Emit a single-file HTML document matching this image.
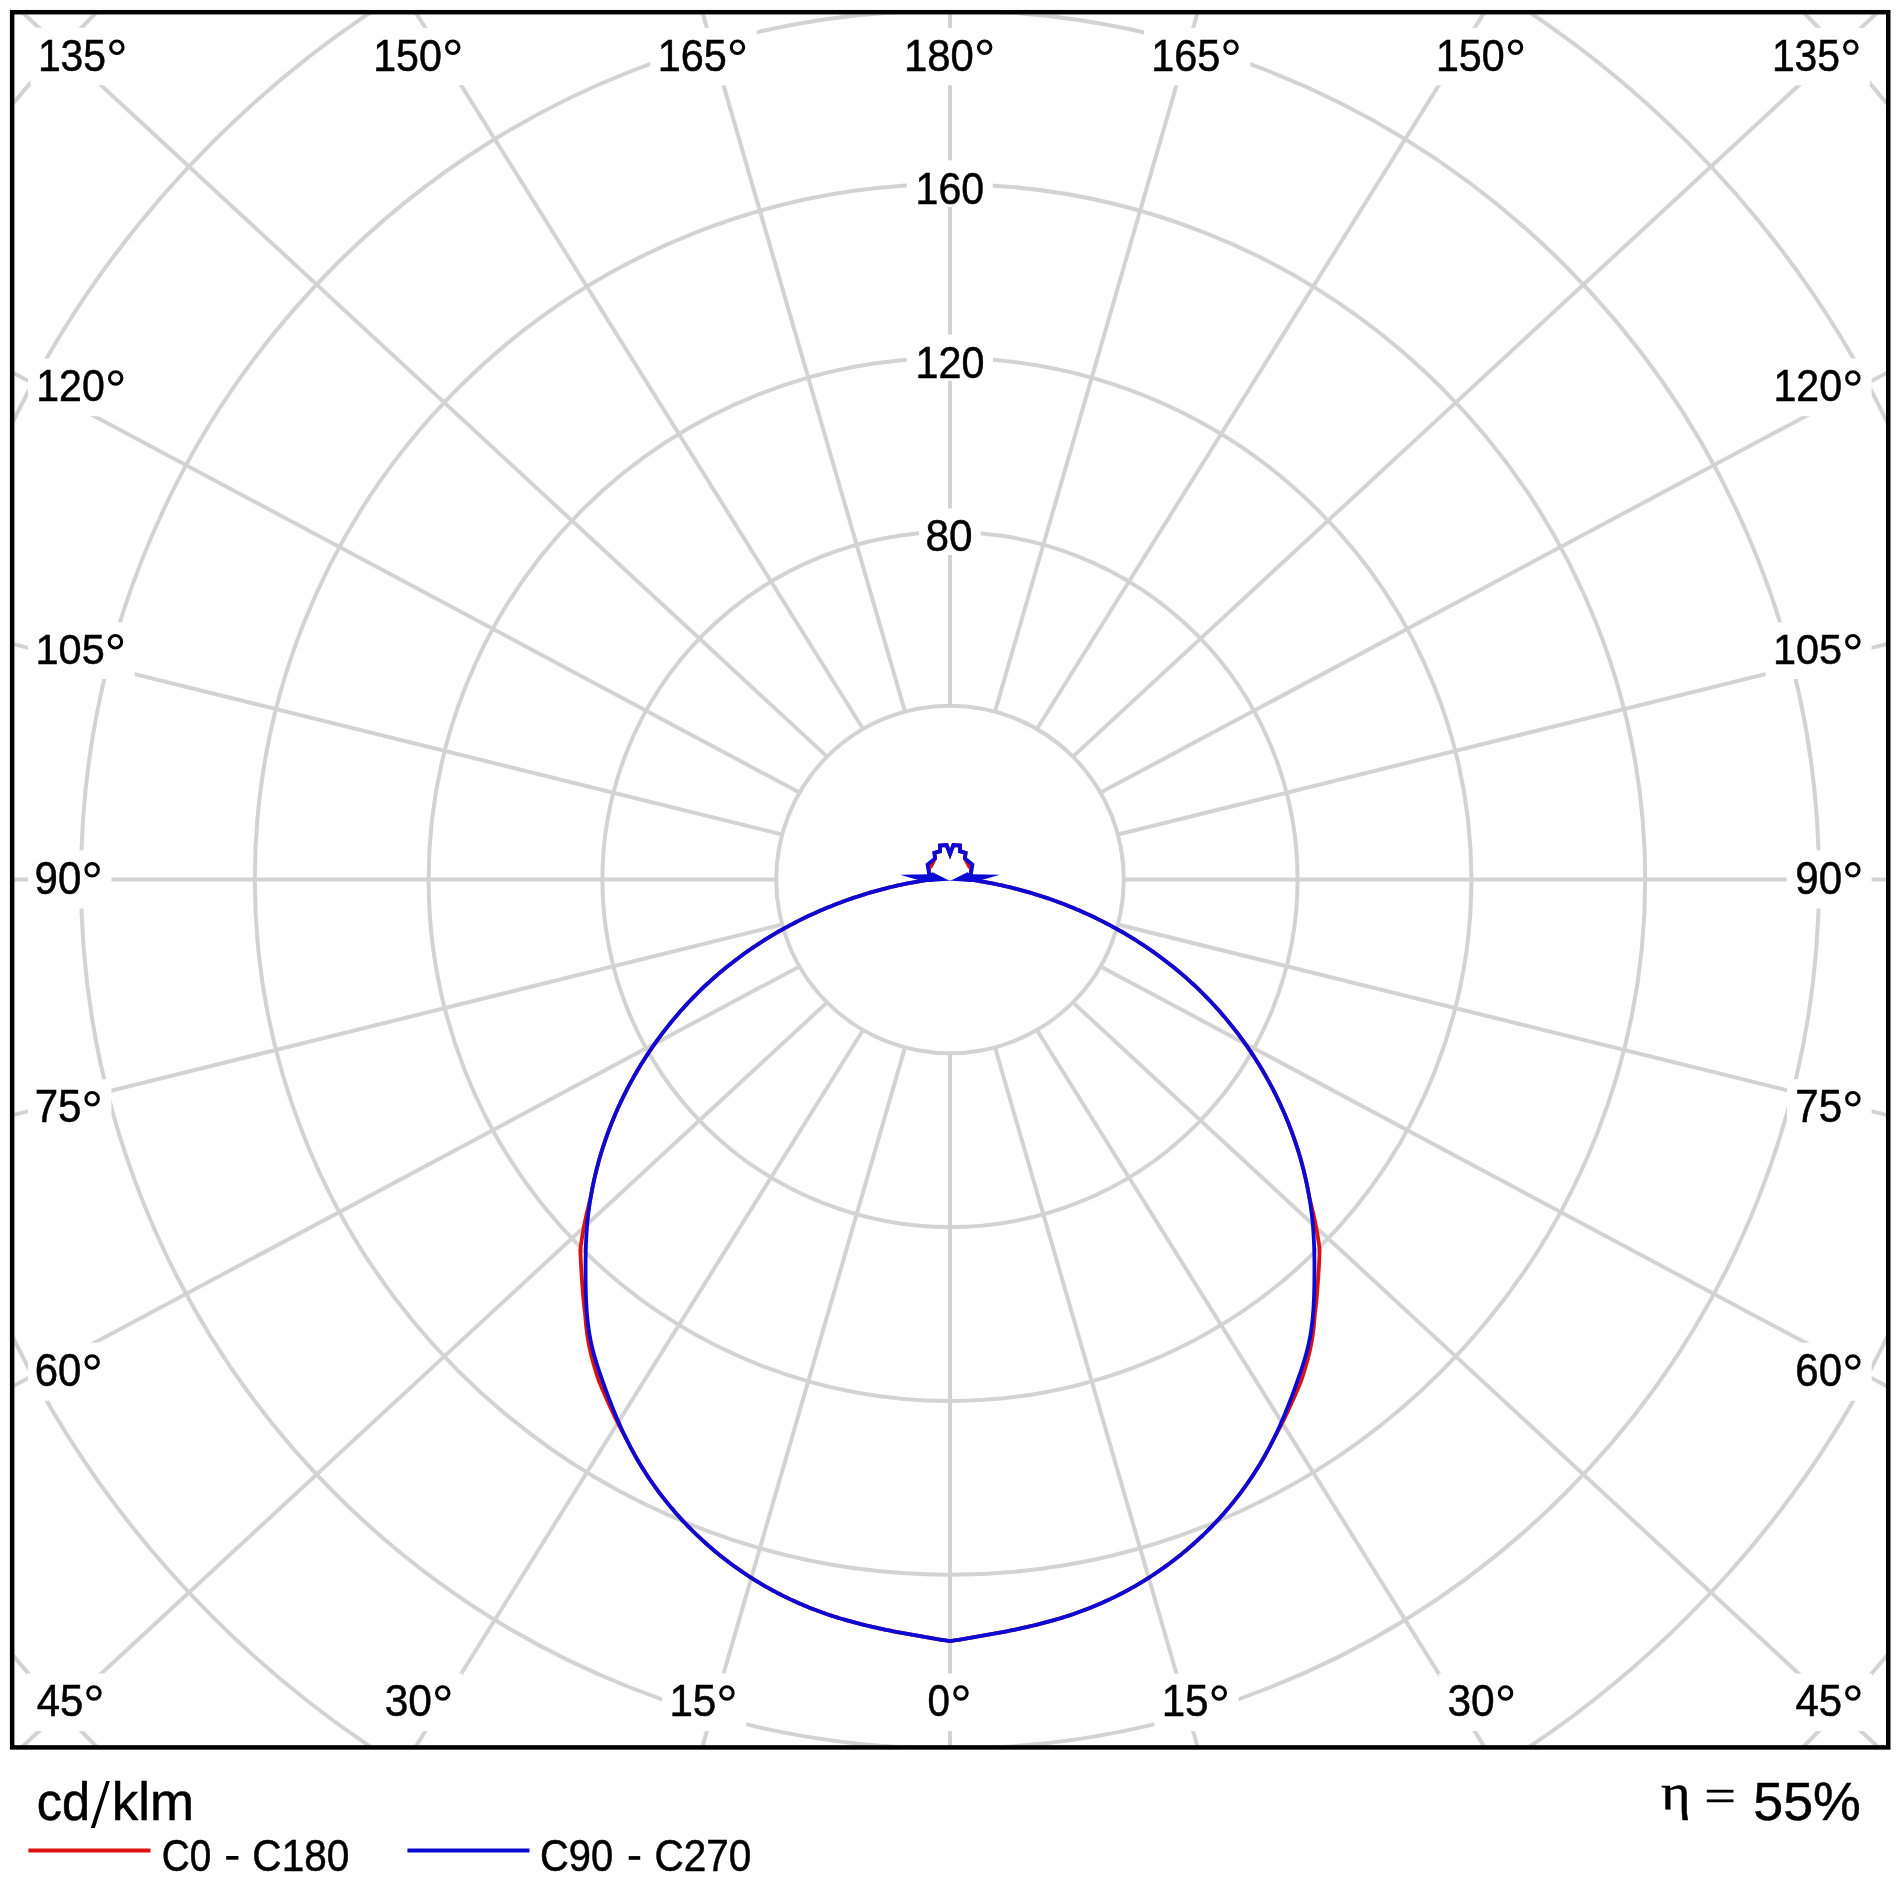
<!DOCTYPE html><html><head><meta charset="utf-8"><title>LDC</title><style>html,body{margin:0;padding:0;background:#fff;overflow:hidden}svg{display:block}</style></head><body>
<svg style="will-change:transform" xmlns="http://www.w3.org/2000/svg" width="1900" height="1900" viewBox="0 0 1900 1900">
<rect width="1900" height="1900" fill="#fff"/>
<defs><clipPath id="fr"><rect x="14.4" y="14.45" width="1871.6" height="1730.7"/></clipPath></defs>
<g clip-path="url(#fr)" fill="none" stroke="#d3d3d3" stroke-width="4.0">
<circle cx="950.0" cy="879.5" r="173.80"/>
<circle cx="950.0" cy="879.5" r="347.60"/>
<circle cx="950.0" cy="879.5" r="521.40"/>
<circle cx="950.0" cy="879.5" r="695.20"/>
<circle cx="950.0" cy="879.5" r="869.00"/>
<circle cx="950.0" cy="879.5" r="1042.80"/>
<circle cx="950.0" cy="879.5" r="1216.60"/>
<line x1="950.00" y1="1053.30" x2="950.00" y2="4053.30"/>
<line x1="994.98" y1="1047.38" x2="1829.93" y2="3928.85"/>
<line x1="1036.90" y1="1030.02" x2="2625.71" y2="3574.75"/>
<line x1="1072.90" y1="1002.40" x2="3275.50" y2="3039.18"/>
<line x1="1100.52" y1="966.40" x2="3746.97" y2="2379.30"/>
<line x1="1117.88" y1="924.48" x2="4029.82" y2="1646.00"/>
<line x1="1123.80" y1="879.50" x2="4123.80" y2="879.50"/>
<line x1="1117.88" y1="834.52" x2="4029.82" y2="113.00"/>
<line x1="1100.52" y1="792.60" x2="3746.97" y2="-620.30"/>
<line x1="1072.90" y1="756.60" x2="3275.50" y2="-1280.18"/>
<line x1="1036.90" y1="728.98" x2="2625.71" y2="-1815.75"/>
<line x1="994.98" y1="711.62" x2="1829.93" y2="-2169.85"/>
<line x1="950.00" y1="705.70" x2="950.00" y2="-2294.30"/>
<line x1="905.02" y1="711.62" x2="70.07" y2="-2169.85"/>
<line x1="863.10" y1="728.98" x2="-725.71" y2="-1815.75"/>
<line x1="827.10" y1="756.60" x2="-1375.50" y2="-1280.18"/>
<line x1="799.48" y1="792.60" x2="-1846.97" y2="-620.30"/>
<line x1="782.12" y1="834.52" x2="-2129.82" y2="113.00"/>
<line x1="776.20" y1="879.50" x2="-2223.80" y2="879.50"/>
<line x1="782.12" y1="924.48" x2="-2129.82" y2="1646.00"/>
<line x1="799.48" y1="966.40" x2="-1846.97" y2="2379.30"/>
<line x1="827.10" y1="1002.40" x2="-1375.50" y2="3039.18"/>
<line x1="863.10" y1="1030.02" x2="-725.71" y2="3574.75"/>
<line x1="905.02" y1="1047.38" x2="70.07" y2="3928.85"/>
</g>
<rect x="30.5" y="27.8" width="105.6" height="57.5" fill="#fff"/>
<text transform="translate(37.88,70.57) scale(0.9192,1)" font-family="Liberation Sans" font-size="44.49" fill="#000" stroke="#000" stroke-width="0.54">135</text>
<circle cx="116.85" cy="47.25" r="6.20" fill="none" stroke="#000" stroke-width="3.1"/>
<rect x="1764.5" y="27.8" width="105.6" height="57.5" fill="#fff"/>
<text transform="translate(1771.88,70.57) scale(0.9192,1)" font-family="Liberation Sans" font-size="44.49" fill="#000" stroke="#000" stroke-width="0.54">135</text>
<circle cx="1850.85" cy="47.25" r="6.20" fill="none" stroke="#000" stroke-width="3.1"/>
<rect x="365.8" y="27.8" width="106.2" height="57.5" fill="#fff"/>
<text transform="translate(373.16,70.57) scale(0.9261,1)" font-family="Liberation Sans" font-size="44.49" fill="#000" stroke="#000" stroke-width="0.54">150</text>
<circle cx="452.75" cy="47.25" r="6.20" fill="none" stroke="#000" stroke-width="3.1"/>
<rect x="1428.6" y="27.8" width="106.2" height="57.5" fill="#fff"/>
<text transform="translate(1435.96,70.57) scale(0.9261,1)" font-family="Liberation Sans" font-size="44.49" fill="#000" stroke="#000" stroke-width="0.54">150</text>
<circle cx="1515.55" cy="47.25" r="6.20" fill="none" stroke="#000" stroke-width="3.1"/>
<rect x="650.3" y="27.8" width="106.4" height="57.5" fill="#fff"/>
<text transform="translate(657.65,70.57) scale(0.9308,1)" font-family="Liberation Sans" font-size="44.49" fill="#000" stroke="#000" stroke-width="0.54">165</text>
<circle cx="737.45" cy="47.25" r="6.20" fill="none" stroke="#000" stroke-width="3.1"/>
<rect x="1143.9" y="27.8" width="106.4" height="57.5" fill="#fff"/>
<text transform="translate(1151.25,70.57) scale(0.9308,1)" font-family="Liberation Sans" font-size="44.49" fill="#000" stroke="#000" stroke-width="0.54">165</text>
<circle cx="1231.05" cy="47.25" r="6.20" fill="none" stroke="#000" stroke-width="3.1"/>
<rect x="896.6" y="27.8" width="107.3" height="57.5" fill="#fff"/>
<text transform="translate(903.91,70.57) scale(0.9421,1)" font-family="Liberation Sans" font-size="44.49" fill="#000" stroke="#000" stroke-width="0.53">180</text>
<circle cx="984.65" cy="47.25" r="6.20" fill="none" stroke="#000" stroke-width="3.1"/>
<rect x="28.0" y="358.5" width="106.9" height="57.7" fill="#fff"/>
<text transform="translate(36.27,401.46) scale(0.9174,1)" font-family="Liberation Sans" font-size="44.77" fill="#000" stroke="#000" stroke-width="0.55">120</text>
<circle cx="115.65" cy="377.95" r="6.20" fill="none" stroke="#000" stroke-width="3.1"/>
<rect x="1766.1" y="358.5" width="105.5" height="57.7" fill="#fff"/>
<text transform="translate(1773.47,401.46) scale(0.9174,1)" font-family="Liberation Sans" font-size="44.77" fill="#000" stroke="#000" stroke-width="0.55">120</text>
<circle cx="1852.85" cy="377.95" r="6.20" fill="none" stroke="#000" stroke-width="3.1"/>
<rect x="28.0" y="622.3" width="106.7" height="56.7" fill="#fff"/>
<text transform="translate(35.54,664.28) scale(0.9565,1)" font-family="Liberation Sans" font-size="43.36" fill="#000" stroke="#000" stroke-width="0.52">105</text>
<circle cx="115.45" cy="641.75" r="6.20" fill="none" stroke="#000" stroke-width="3.1"/>
<rect x="1765.6" y="622.3" width="106.0" height="56.7" fill="#fff"/>
<text transform="translate(1772.94,664.28) scale(0.9565,1)" font-family="Liberation Sans" font-size="43.36" fill="#000" stroke="#000" stroke-width="0.52">105</text>
<circle cx="1852.85" cy="641.75" r="6.20" fill="none" stroke="#000" stroke-width="3.1"/>
<rect x="28.0" y="850.4" width="83.4" height="58.1" fill="#fff"/>
<text transform="translate(34.53,893.76) scale(0.9284,1)" font-family="Liberation Sans" font-size="45.34" fill="#000" stroke="#000" stroke-width="0.54">90</text>
<circle cx="92.15" cy="869.85" r="6.20" fill="none" stroke="#000" stroke-width="3.1"/>
<rect x="1786.7" y="850.4" width="84.9" height="58.1" fill="#fff"/>
<text transform="translate(1795.23,893.76) scale(0.9284,1)" font-family="Liberation Sans" font-size="45.34" fill="#000" stroke="#000" stroke-width="0.54">90</text>
<circle cx="1852.85" cy="869.85" r="6.20" fill="none" stroke="#000" stroke-width="3.1"/>
<rect x="28.0" y="1079.3" width="83.4" height="57.7" fill="#fff"/>
<text transform="translate(34.64,1122.26) scale(0.9266,1)" font-family="Liberation Sans" font-size="45.43" fill="#000" stroke="#000" stroke-width="0.54">75</text>
<circle cx="92.15" cy="1098.75" r="6.20" fill="none" stroke="#000" stroke-width="3.1"/>
<rect x="1787.0" y="1079.3" width="84.6" height="57.7" fill="#fff"/>
<text transform="translate(1795.34,1122.26) scale(0.9266,1)" font-family="Liberation Sans" font-size="45.43" fill="#000" stroke="#000" stroke-width="0.54">75</text>
<circle cx="1852.85" cy="1098.75" r="6.20" fill="none" stroke="#000" stroke-width="3.1"/>
<rect x="28.0" y="1342.6" width="83.4" height="58.1" fill="#fff"/>
<text transform="translate(34.67,1385.96) scale(0.9254,1)" font-family="Liberation Sans" font-size="45.34" fill="#000" stroke="#000" stroke-width="0.54">60</text>
<circle cx="92.15" cy="1362.05" r="6.20" fill="none" stroke="#000" stroke-width="3.1"/>
<rect x="1787.0" y="1342.6" width="84.6" height="58.1" fill="#fff"/>
<text transform="translate(1795.37,1385.96) scale(0.9254,1)" font-family="Liberation Sans" font-size="45.34" fill="#000" stroke="#000" stroke-width="0.54">60</text>
<circle cx="1852.85" cy="1362.05" r="6.20" fill="none" stroke="#000" stroke-width="3.1"/>
<rect x="27.1" y="1673.5" width="86.1" height="57.6" fill="#fff"/>
<text transform="translate(36.64,1716.36) scale(0.9255,1)" font-family="Liberation Sans" font-size="45.29" fill="#000" stroke="#000" stroke-width="0.54">45</text>
<circle cx="93.95" cy="1692.95" r="6.20" fill="none" stroke="#000" stroke-width="3.1"/>
<rect x="1786.0" y="1673.5" width="86.1" height="57.6" fill="#fff"/>
<text transform="translate(1795.54,1716.36) scale(0.9255,1)" font-family="Liberation Sans" font-size="45.29" fill="#000" stroke="#000" stroke-width="0.54">45</text>
<circle cx="1852.85" cy="1692.95" r="6.20" fill="none" stroke="#000" stroke-width="3.1"/>
<rect x="375.8" y="1673.5" width="86.2" height="57.6" fill="#fff"/>
<text transform="translate(384.68,1716.36) scale(0.9524,1)" font-family="Liberation Sans" font-size="44.63" fill="#000" stroke="#000" stroke-width="0.53">30</text>
<circle cx="442.75" cy="1692.95" r="6.20" fill="none" stroke="#000" stroke-width="3.1"/>
<rect x="1438.6" y="1673.5" width="86.2" height="57.6" fill="#fff"/>
<text transform="translate(1447.48,1716.36) scale(0.9524,1)" font-family="Liberation Sans" font-size="44.63" fill="#000" stroke="#000" stroke-width="0.53">30</text>
<circle cx="1505.55" cy="1692.95" r="6.20" fill="none" stroke="#000" stroke-width="3.1"/>
<rect x="662.1" y="1673.5" width="84.1" height="57.6" fill="#fff"/>
<text transform="translate(669.39,1716.36) scale(0.9306,1)" font-family="Liberation Sans" font-size="45.29" fill="#000" stroke="#000" stroke-width="0.54">15</text>
<circle cx="726.95" cy="1692.95" r="6.20" fill="none" stroke="#000" stroke-width="3.1"/>
<rect x="1154.4" y="1673.5" width="84.1" height="57.6" fill="#fff"/>
<text transform="translate(1161.69,1716.36) scale(0.9306,1)" font-family="Liberation Sans" font-size="45.29" fill="#000" stroke="#000" stroke-width="0.54">15</text>
<circle cx="1219.25" cy="1692.95" r="6.20" fill="none" stroke="#000" stroke-width="3.1"/>
<rect x="918.7" y="1673.5" width="61.5" height="57.6" fill="#fff"/>
<text transform="translate(927.62,1716.36) scale(0.9046,1)" font-family="Liberation Sans" font-size="44.63" fill="#000" stroke="#000" stroke-width="0.55">0</text>
<circle cx="960.95" cy="1692.95" r="6.20" fill="none" stroke="#000" stroke-width="3.1"/>
<rect x="906.7" y="160.4" width="86.0" height="46.5" fill="#fff"/>
<text transform="translate(915.57,203.56) scale(0.9117,1)" font-family="Liberation Sans" font-size="45.06" fill="#000" stroke="#000" stroke-width="0.55">160</text>
<rect x="906.7" y="334.8" width="86.3" height="45.8" fill="#fff"/>
<text transform="translate(915.55,377.66) scale(0.9174,1)" font-family="Liberation Sans" font-size="45.06" fill="#000" stroke="#000" stroke-width="0.55">120</text>
<rect x="919.1" y="508.5" width="61.6" height="46.5" fill="#fff"/>
<text transform="translate(925.46,551.36) scale(0.9397,1)" font-family="Liberation Sans" font-size="45.06" fill="#000" stroke="#000" stroke-width="0.53">80</text>
<g fill="none" stroke-width="3.8" stroke-linejoin="round">
<path d="M939.75,878.36 L937.48,878.63 L934.64,879.00 L931.80,879.38 L928.96,879.78 L926.13,880.20 L923.29,880.64 L920.46,881.10 L917.63,881.58 L914.80,882.07 L911.98,882.59 L909.15,883.13 L906.33,883.69 L903.51,884.26 L900.70,884.86 L897.89,885.47 L895.08,886.11 L892.27,886.76 L889.47,887.43 L886.67,888.12 L883.88,888.83 L881.08,889.56 L878.30,890.31 L875.52,891.08 L872.74,891.86 L869.97,892.67 L867.20,893.49 L864.43,894.34 L861.68,895.20 L858.92,896.08 L856.18,896.98 L853.43,897.90 L850.70,898.83 L847.97,899.79 L845.24,900.76 L842.53,901.75 L839.81,902.76 L837.11,903.79 L834.41,904.84 L831.72,905.91 L829.04,906.99 L826.36,908.09 L823.69,909.21 L821.03,910.35 L818.37,911.51 L815.73,912.68 L813.09,913.88 L810.46,915.09 L807.84,916.32 L805.22,917.57 L802.62,918.83 L800.02,920.11 L797.43,921.42 L794.86,922.74 L792.29,924.07 L789.73,925.43 L787.18,926.80 L784.64,928.19 L782.11,929.60 L779.59,931.02 L777.08,932.47 L774.58,933.93 L772.09,935.41 L769.61,936.90 L767.14,938.41 L764.69,939.94 L762.24,941.49 L759.81,943.06 L757.39,944.64 L754.98,946.24 L752.58,947.86 L750.19,949.49 L747.82,951.14 L745.45,952.81 L743.10,954.50 L740.77,956.20 L738.44,957.92 L736.13,959.66 L733.83,961.41 L731.55,963.18 L729.28,964.97 L727.02,966.77 L724.77,968.59 L722.54,970.43 L720.33,972.29 L718.12,974.16 L715.94,976.05 L713.76,977.95 L711.60,979.87 L709.46,981.81 L707.33,983.76 L705.22,985.73 L703.12,987.72 L701.04,989.72 L698.97,991.74 L696.92,993.77 L694.88,995.82 L692.86,997.89 L690.85,999.97 L688.86,1002.06 L686.89,1004.17 L684.93,1006.30 L682.99,1008.44 L681.06,1010.59 L679.15,1012.76 L677.26,1014.95 L675.39,1017.14 L673.53,1019.35 L671.68,1021.58 L669.86,1023.82 L668.05,1026.07 L666.25,1028.34 L664.48,1030.62 L662.72,1032.91 L660.98,1035.22 L659.25,1037.54 L657.55,1039.87 L655.86,1042.21 L654.19,1044.57 L652.53,1046.94 L650.90,1049.32 L649.28,1051.72 L647.68,1054.12 L646.10,1056.54 L644.53,1058.97 L642.99,1061.41 L641.46,1063.86 L639.95,1066.33 L638.46,1068.80 L636.99,1071.29 L635.54,1073.78 L634.10,1076.29 L632.69,1078.81 L631.29,1081.34 L629.92,1083.87 L628.56,1086.42 L627.22,1088.98 L625.90,1091.55 L624.60,1094.13 L623.32,1096.72 L622.06,1099.32 L620.82,1101.92 L619.60,1104.54 L618.40,1107.16 L617.22,1109.80 L616.06,1112.44 L614.92,1115.09 L613.80,1117.75 L612.70,1120.42 L611.62,1123.10 L610.56,1125.78 L609.53,1128.47 L608.51,1131.18 L607.51,1133.88 L606.54,1136.60 L605.59,1139.32 L604.65,1142.05 L603.74,1144.79 L602.85,1147.53 L601.98,1150.29 L601.14,1153.04 L600.31,1155.81 L599.51,1158.58 L598.73,1161.36 L597.97,1164.14 L597.23,1166.93 L596.51,1169.73 L595.82,1172.53 L595.15,1175.33 L594.50,1178.15 L593.88,1180.96 L593.27,1183.79 L592.69,1186.61 L592.14,1189.45 L591.60,1192.28 L591.09,1195.13 L590.52,1198.04 L589.69,1201.22 L588.88,1204.41 L588.10,1207.61 L587.34,1210.81 L586.60,1214.02 L585.90,1217.23 L585.22,1220.46 L584.56,1223.69 L583.93,1226.92 L583.33,1230.16 L582.76,1233.41 L582.21,1236.67 L581.68,1239.93 L581.18,1243.19 L580.70,1246.46 L580.34,1249.64 L580.42,1252.40 L580.52,1255.15 L580.64,1257.91 L580.77,1260.66 L580.90,1263.42 L581.06,1266.17 L581.21,1268.93 L581.38,1271.68 L581.56,1274.43 L581.74,1277.19 L581.93,1279.94 L582.12,1282.69 L582.31,1285.44 L582.52,1288.19 L582.73,1290.93 L582.95,1293.68 L583.19,1296.42 L583.44,1299.15 L583.71,1301.89 L583.99,1304.62 L584.30,1307.34 L584.62,1310.06 L584.97,1312.77 L585.26,1315.58 L585.47,1318.50 L585.71,1321.42 L585.98,1324.33 L586.29,1327.24 L586.62,1330.14 L586.99,1333.04 L587.40,1335.93 L587.85,1338.81 L588.34,1341.68 L588.86,1344.55 L589.43,1347.41 L590.05,1350.26 L590.71,1353.10 L591.40,1355.93 L592.13,1358.76 L592.90,1361.58 L593.69,1364.40 L594.52,1367.21 L595.36,1370.02 L596.23,1372.83 L597.12,1375.63 L598.03,1378.44 L598.97,1381.22 L600.05,1383.80 L601.14,1386.38 L602.24,1388.96 L603.34,1391.54 L604.45,1394.12 L605.58,1396.70 L606.71,1399.27 L607.85,1401.84 L609.01,1404.40 L610.17,1406.96 L611.35,1409.51 L612.54,1412.06 L613.75,1414.60 L614.96,1417.14 L616.19,1419.66 L617.44,1422.18 L618.70,1424.69 L619.98,1427.19 L621.28,1429.69 L622.59,1432.17 L623.92,1434.64 L625.27,1437.10 L626.63,1439.55 L627.93,1442.14 L629.24,1444.73 L630.58,1447.30 L631.94,1449.86 L633.32,1452.40 L634.72,1454.94 L636.15,1457.46 L637.59,1459.96 L639.06,1462.46 L640.55,1464.94 L642.06,1467.40 L643.59,1469.85 L645.14,1472.29 L646.71,1474.72 L648.30,1477.13 L649.91,1479.52 L651.54,1481.90 L653.19,1484.27 L654.86,1486.62 L656.55,1488.96 L658.26,1491.29 L659.99,1493.59 L661.74,1495.89 L663.51,1498.17 L665.29,1500.43 L667.10,1502.68 L668.92,1504.91 L670.76,1507.13 L672.62,1509.33 L674.50,1511.52 L676.39,1513.69 L678.31,1515.84 L680.24,1517.98 L682.19,1520.10 L684.15,1522.21 L686.14,1524.30 L688.14,1526.37 L690.16,1528.43 L692.19,1530.47 L694.24,1532.49 L696.31,1534.50 L698.39,1536.49 L700.49,1538.46 L702.61,1540.41 L704.74,1542.35 L706.89,1544.27 L709.05,1546.17 L711.23,1548.06 L713.43,1549.93 L715.64,1551.78 L717.86,1553.61 L720.10,1555.42 L722.36,1557.21 L724.63,1558.99 L726.91,1560.75 L729.21,1562.49 L731.52,1564.21 L733.85,1565.91 L736.19,1567.59 L738.54,1569.26 L740.91,1570.90 L743.29,1572.53 L745.69,1574.13 L748.10,1575.72 L750.52,1577.29 L752.95,1578.84 L755.40,1580.36 L757.86,1581.87 L760.33,1583.36 L762.81,1584.83 L765.31,1586.28 L767.82,1587.70 L770.34,1589.11 L772.87,1590.50 L775.41,1591.86 L777.97,1593.21 L780.54,1594.53 L783.11,1595.84 L785.70,1597.12 L788.30,1598.38 L790.91,1599.62 L793.53,1600.84 L796.17,1602.03 L798.81,1603.21 L801.46,1604.36 L804.12,1605.49 L806.79,1606.60 L809.48,1607.69 L812.17,1608.76 L814.87,1609.80 L817.58,1610.82 L820.30,1611.82 L823.03,1612.79 L825.76,1613.75 L828.51,1614.68 L831.26,1615.59 L834.02,1616.48 L836.79,1617.35 L839.56,1618.20 L842.35,1619.03 L845.13,1619.85 L847.93,1620.64 L850.73,1621.42 L853.53,1622.18 L856.34,1622.92 L859.16,1623.65 L861.98,1624.36 L864.80,1625.05 L867.63,1625.73 L870.46,1626.40 L873.29,1627.05 L876.13,1627.69 L878.97,1628.32 L881.81,1628.93 L884.65,1629.53 L887.50,1630.12 L890.34,1630.70 L893.19,1631.27 L896.03,1631.83 L898.88,1632.37 L901.73,1632.91 L904.57,1633.44 L907.42,1633.97 L910.26,1634.48 L913.10,1634.99 L915.94,1635.49 L918.78,1635.99 L921.62,1636.47 L924.45,1636.96 L927.28,1637.44 L930.10,1637.91 L932.93,1638.38 L935.74,1638.85 L938.56,1639.31 L941.37,1639.78 L944.17,1640.24 L946.97,1640.70 L949.76,1641.15 L953.03,1640.70 L955.83,1640.24 L958.63,1639.78 L961.44,1639.31 L964.26,1638.85 L967.07,1638.38 L969.90,1637.91 L972.72,1637.44 L975.55,1636.96 L978.38,1636.47 L981.22,1635.99 L984.06,1635.49 L986.90,1634.99 L989.74,1634.48 L992.58,1633.97 L995.43,1633.44 L998.27,1632.91 L1001.12,1632.37 L1003.97,1631.83 L1006.81,1631.27 L1009.66,1630.70 L1012.50,1630.12 L1015.35,1629.53 L1018.19,1628.93 L1021.03,1628.32 L1023.87,1627.69 L1026.71,1627.05 L1029.54,1626.40 L1032.37,1625.73 L1035.20,1625.05 L1038.02,1624.36 L1040.84,1623.65 L1043.66,1622.92 L1046.47,1622.18 L1049.27,1621.42 L1052.07,1620.64 L1054.87,1619.85 L1057.65,1619.03 L1060.44,1618.20 L1063.21,1617.35 L1065.98,1616.48 L1068.74,1615.59 L1071.49,1614.68 L1074.24,1613.75 L1076.97,1612.79 L1079.70,1611.82 L1082.42,1610.82 L1085.13,1609.80 L1087.83,1608.76 L1090.52,1607.69 L1093.21,1606.60 L1095.88,1605.49 L1098.54,1604.36 L1101.19,1603.21 L1103.83,1602.03 L1106.47,1600.84 L1109.09,1599.62 L1111.70,1598.38 L1114.30,1597.12 L1116.89,1595.84 L1119.46,1594.53 L1122.03,1593.21 L1124.59,1591.86 L1127.13,1590.50 L1129.66,1589.11 L1132.18,1587.70 L1134.69,1586.28 L1137.19,1584.83 L1139.67,1583.36 L1142.14,1581.87 L1144.60,1580.36 L1147.05,1578.84 L1149.48,1577.29 L1151.90,1575.72 L1154.31,1574.13 L1156.71,1572.53 L1159.09,1570.90 L1161.46,1569.26 L1163.81,1567.59 L1166.15,1565.91 L1168.48,1564.21 L1170.79,1562.49 L1173.09,1560.75 L1175.37,1558.99 L1177.64,1557.21 L1179.90,1555.42 L1182.14,1553.61 L1184.36,1551.78 L1186.57,1549.93 L1188.77,1548.06 L1190.95,1546.17 L1193.11,1544.27 L1195.26,1542.35 L1197.39,1540.41 L1199.51,1538.46 L1201.61,1536.49 L1203.69,1534.50 L1205.76,1532.49 L1207.81,1530.47 L1209.84,1528.43 L1211.86,1526.37 L1213.86,1524.30 L1215.85,1522.21 L1217.81,1520.10 L1219.76,1517.98 L1221.69,1515.84 L1223.61,1513.69 L1225.50,1511.52 L1227.38,1509.33 L1229.24,1507.13 L1231.08,1504.91 L1232.90,1502.68 L1234.71,1500.43 L1236.49,1498.17 L1238.26,1495.89 L1240.01,1493.59 L1241.74,1491.29 L1243.45,1488.96 L1245.14,1486.62 L1246.81,1484.27 L1248.46,1481.90 L1250.09,1479.52 L1251.70,1477.13 L1253.29,1474.72 L1254.86,1472.29 L1256.41,1469.85 L1257.94,1467.40 L1259.45,1464.94 L1260.94,1462.46 L1262.41,1459.96 L1263.85,1457.46 L1265.28,1454.94 L1266.68,1452.40 L1268.06,1449.86 L1269.42,1447.30 L1270.76,1444.73 L1272.07,1442.14 L1273.37,1439.55 L1274.73,1437.10 L1276.08,1434.64 L1277.41,1432.17 L1278.72,1429.69 L1280.02,1427.19 L1281.30,1424.69 L1282.56,1422.18 L1283.81,1419.66 L1285.04,1417.14 L1286.25,1414.60 L1287.46,1412.06 L1288.65,1409.51 L1289.83,1406.96 L1290.99,1404.40 L1292.15,1401.84 L1293.29,1399.27 L1294.42,1396.70 L1295.55,1394.12 L1296.66,1391.54 L1297.76,1388.96 L1298.86,1386.38 L1299.95,1383.80 L1301.03,1381.22 L1301.97,1378.44 L1302.88,1375.63 L1303.77,1372.83 L1304.64,1370.02 L1305.48,1367.21 L1306.31,1364.40 L1307.10,1361.58 L1307.87,1358.76 L1308.60,1355.93 L1309.29,1353.10 L1309.95,1350.26 L1310.57,1347.41 L1311.14,1344.55 L1311.66,1341.68 L1312.15,1338.81 L1312.60,1335.93 L1313.01,1333.04 L1313.38,1330.14 L1313.71,1327.24 L1314.02,1324.33 L1314.29,1321.42 L1314.53,1318.50 L1314.74,1315.58 L1315.03,1312.77 L1315.38,1310.06 L1315.70,1307.34 L1316.01,1304.62 L1316.29,1301.89 L1316.56,1299.15 L1316.81,1296.42 L1317.05,1293.68 L1317.27,1290.93 L1317.48,1288.19 L1317.69,1285.44 L1317.88,1282.69 L1318.07,1279.94 L1318.26,1277.19 L1318.44,1274.43 L1318.62,1271.68 L1318.79,1268.93 L1318.94,1266.17 L1319.10,1263.42 L1319.23,1260.66 L1319.36,1257.91 L1319.48,1255.15 L1319.58,1252.40 L1319.66,1249.64 L1319.30,1246.46 L1318.82,1243.19 L1318.32,1239.93 L1317.79,1236.67 L1317.24,1233.41 L1316.67,1230.16 L1316.07,1226.92 L1315.44,1223.69 L1314.78,1220.46 L1314.10,1217.23 L1313.40,1214.02 L1312.66,1210.81 L1311.90,1207.61 L1311.12,1204.41 L1310.31,1201.22 L1309.48,1198.04 L1308.91,1195.13 L1308.40,1192.28 L1307.86,1189.45 L1307.31,1186.61 L1306.73,1183.79 L1306.12,1180.96 L1305.50,1178.15 L1304.85,1175.33 L1304.18,1172.53 L1303.49,1169.73 L1302.77,1166.93 L1302.03,1164.14 L1301.27,1161.36 L1300.49,1158.58 L1299.69,1155.81 L1298.86,1153.04 L1298.02,1150.29 L1297.15,1147.53 L1296.26,1144.79 L1295.35,1142.05 L1294.41,1139.32 L1293.46,1136.60 L1292.49,1133.88 L1291.49,1131.18 L1290.47,1128.47 L1289.44,1125.78 L1288.38,1123.10 L1287.30,1120.42 L1286.20,1117.75 L1285.08,1115.09 L1283.94,1112.44 L1282.78,1109.80 L1281.60,1107.16 L1280.40,1104.54 L1279.18,1101.92 L1277.94,1099.32 L1276.68,1096.72 L1275.40,1094.13 L1274.10,1091.55 L1272.78,1088.98 L1271.44,1086.42 L1270.08,1083.87 L1268.71,1081.34 L1267.31,1078.81 L1265.90,1076.29 L1264.46,1073.78 L1263.01,1071.29 L1261.54,1068.80 L1260.05,1066.33 L1258.54,1063.86 L1257.01,1061.41 L1255.47,1058.97 L1253.90,1056.54 L1252.32,1054.12 L1250.72,1051.72 L1249.10,1049.32 L1247.47,1046.94 L1245.81,1044.57 L1244.14,1042.21 L1242.45,1039.87 L1240.75,1037.54 L1239.02,1035.22 L1237.28,1032.91 L1235.52,1030.62 L1233.75,1028.34 L1231.95,1026.07 L1230.14,1023.82 L1228.32,1021.58 L1226.47,1019.35 L1224.61,1017.14 L1222.74,1014.95 L1220.85,1012.76 L1218.94,1010.59 L1217.01,1008.44 L1215.07,1006.30 L1213.11,1004.17 L1211.14,1002.06 L1209.15,999.97 L1207.14,997.89 L1205.12,995.82 L1203.08,993.77 L1201.03,991.74 L1198.96,989.72 L1196.88,987.72 L1194.78,985.73 L1192.67,983.76 L1190.54,981.81 L1188.40,979.87 L1186.24,977.95 L1184.06,976.05 L1181.88,974.16 L1179.67,972.29 L1177.46,970.43 L1175.23,968.59 L1172.98,966.77 L1170.72,964.97 L1168.45,963.18 L1166.17,961.41 L1163.87,959.66 L1161.56,957.92 L1159.23,956.20 L1156.90,954.50 L1154.55,952.81 L1152.18,951.14 L1149.81,949.49 L1147.42,947.86 L1145.02,946.24 L1142.61,944.64 L1140.19,943.06 L1137.76,941.49 L1135.31,939.94 L1132.86,938.41 L1130.39,936.90 L1127.91,935.41 L1125.42,933.93 L1122.92,932.47 L1120.41,931.02 L1117.89,929.60 L1115.36,928.19 L1112.82,926.80 L1110.27,925.43 L1107.71,924.07 L1105.14,922.74 L1102.57,921.42 L1099.98,920.11 L1097.38,918.83 L1094.78,917.57 L1092.16,916.32 L1089.54,915.09 L1086.91,913.88 L1084.27,912.68 L1081.63,911.51 L1078.97,910.35 L1076.31,909.21 L1073.64,908.09 L1070.96,906.99 L1068.28,905.91 L1065.59,904.84 L1062.89,903.79 L1060.19,902.76 L1057.47,901.75 L1054.76,900.76 L1052.03,899.79 L1049.30,898.83 L1046.57,897.90 L1043.82,896.98 L1041.08,896.08 L1038.32,895.20 L1035.57,894.34 L1032.80,893.49 L1030.03,892.67 L1027.26,891.86 L1024.48,891.08 L1021.70,890.31 L1018.92,889.56 L1016.12,888.83 L1013.33,888.12 L1010.53,887.43 L1007.73,886.76 L1004.92,886.11 L1002.11,885.47 L999.30,884.86 L996.49,884.26 L993.67,883.69 L990.85,883.13 L988.02,882.59 L985.20,882.07 L982.37,881.58 L979.54,881.10 L976.71,880.64 L973.87,880.20 L971.04,879.78 L968.20,879.38 L965.36,879.00 L962.52,878.63 L960.25,878.36" stroke="#dc1212" stroke-linecap="butt"/>
<path d="M929.40,876.00 L929.00,868.50 L931.20,866.00 L935.10,858.40 L934.40,852.80 L940.10,851.20 L939.90,845.60 L946.60,845.00 L950.00,854.00 L953.40,845.00 L960.10,845.60 L959.90,851.20 L965.60,852.80 L964.90,858.40 L968.80,866.00 L971.00,868.50 L970.60,876.00" stroke="#dc1212" stroke-linejoin="miter" stroke-miterlimit="10"/>
<path d="M939.75,878.36 L937.48,878.63 L934.64,879.00 L931.80,879.38 L928.96,879.78 L926.13,880.20 L923.29,880.64 L920.46,881.10 L917.63,881.58 L914.80,882.07 L911.98,882.59 L909.15,883.13 L906.33,883.69 L903.51,884.26 L900.70,884.86 L897.89,885.47 L895.08,886.11 L892.27,886.76 L889.47,887.43 L886.67,888.12 L883.88,888.83 L881.08,889.56 L878.30,890.31 L875.52,891.08 L872.74,891.86 L869.97,892.67 L867.20,893.49 L864.43,894.34 L861.68,895.20 L858.92,896.08 L856.18,896.98 L853.43,897.90 L850.70,898.83 L847.97,899.79 L845.24,900.76 L842.53,901.75 L839.81,902.76 L837.11,903.79 L834.41,904.84 L831.72,905.91 L829.04,906.99 L826.36,908.09 L823.69,909.21 L821.03,910.35 L818.37,911.51 L815.73,912.68 L813.09,913.88 L810.46,915.09 L807.84,916.32 L805.22,917.57 L802.62,918.83 L800.02,920.11 L797.43,921.42 L794.86,922.74 L792.29,924.07 L789.73,925.43 L787.18,926.80 L784.64,928.19 L782.11,929.60 L779.59,931.02 L777.08,932.47 L774.58,933.93 L772.09,935.41 L769.61,936.90 L767.14,938.41 L764.69,939.94 L762.24,941.49 L759.81,943.06 L757.39,944.64 L754.98,946.24 L752.58,947.86 L750.19,949.49 L747.82,951.14 L745.45,952.81 L743.10,954.50 L740.77,956.20 L738.44,957.92 L736.13,959.66 L733.83,961.41 L731.55,963.18 L729.28,964.97 L727.02,966.77 L724.77,968.59 L722.54,970.43 L720.33,972.29 L718.12,974.16 L715.94,976.05 L713.76,977.95 L711.60,979.87 L709.46,981.81 L707.33,983.76 L705.22,985.73 L703.12,987.72 L701.04,989.72 L698.97,991.74 L696.92,993.77 L694.88,995.82 L692.86,997.89 L690.85,999.97 L688.86,1002.06 L686.89,1004.17 L684.93,1006.30 L682.99,1008.44 L681.06,1010.59 L679.15,1012.76 L677.26,1014.95 L675.39,1017.14 L673.53,1019.35 L671.68,1021.58 L669.86,1023.82 L668.05,1026.07 L666.25,1028.34 L664.48,1030.62 L662.72,1032.91 L660.98,1035.22 L659.25,1037.54 L657.55,1039.87 L655.86,1042.21 L654.19,1044.57 L652.53,1046.94 L650.90,1049.32 L649.28,1051.72 L647.68,1054.12 L646.10,1056.54 L644.53,1058.97 L642.99,1061.41 L641.46,1063.86 L639.95,1066.33 L638.46,1068.80 L636.99,1071.29 L635.54,1073.78 L634.10,1076.29 L632.69,1078.81 L631.29,1081.34 L629.92,1083.87 L628.56,1086.42 L627.22,1088.98 L625.90,1091.55 L624.60,1094.13 L623.32,1096.72 L622.06,1099.32 L620.82,1101.92 L619.60,1104.54 L618.40,1107.16 L617.22,1109.80 L616.06,1112.44 L614.92,1115.09 L613.80,1117.75 L612.70,1120.42 L611.62,1123.10 L610.56,1125.78 L609.53,1128.47 L608.51,1131.18 L607.51,1133.88 L606.54,1136.60 L605.59,1139.32 L604.65,1142.05 L603.74,1144.79 L602.85,1147.53 L601.98,1150.29 L601.14,1153.04 L600.31,1155.81 L599.51,1158.58 L598.73,1161.36 L597.97,1164.14 L597.23,1166.93 L596.51,1169.73 L595.82,1172.53 L595.15,1175.33 L594.50,1178.15 L593.88,1180.96 L593.27,1183.79 L592.69,1186.61 L592.14,1189.45 L591.60,1192.28 L591.09,1195.13 L590.60,1197.97 L590.13,1200.82 L589.69,1203.68 L589.27,1206.54 L588.88,1209.40 L588.51,1212.27 L588.16,1215.14 L587.83,1218.01 L587.53,1220.89 L587.26,1223.77 L587.00,1226.65 L586.77,1229.54 L586.57,1232.43 L586.39,1235.32 L586.23,1238.22 L586.08,1241.11 L585.96,1244.01 L585.86,1246.91 L585.77,1249.81 L585.70,1252.72 L585.65,1255.62 L585.61,1258.53 L585.58,1261.43 L585.56,1264.34 L585.55,1267.25 L585.55,1270.15 L585.56,1273.06 L585.58,1275.97 L585.60,1278.87 L585.63,1281.78 L585.67,1284.68 L585.72,1287.58 L585.79,1290.48 L585.86,1293.38 L585.96,1296.27 L586.07,1299.16 L586.20,1302.05 L586.35,1304.93 L586.53,1307.81 L586.72,1310.69 L586.95,1313.56 L587.20,1316.42 L587.47,1319.28 L587.78,1322.14 L588.12,1324.98 L588.49,1327.82 L588.90,1330.66 L589.34,1333.48 L589.83,1336.30 L590.35,1339.11 L590.91,1341.91 L591.52,1344.70 L592.16,1347.49 L592.85,1350.26 L593.58,1353.03 L594.35,1355.79 L595.15,1358.55 L595.98,1361.29 L596.83,1364.04 L597.71,1366.78 L598.61,1369.51 L599.53,1372.25 L600.47,1374.98 L601.42,1377.71 L602.38,1380.44 L603.35,1383.17 L604.33,1385.90 L605.32,1388.63 L606.31,1391.35 L607.32,1394.08 L608.34,1396.80 L609.37,1399.51 L610.42,1402.23 L611.47,1404.94 L612.54,1407.64 L613.63,1410.34 L614.73,1413.04 L615.84,1415.73 L616.97,1418.41 L618.12,1421.08 L619.28,1423.75 L620.46,1426.41 L621.65,1429.05 L622.87,1431.69 L624.10,1434.32 L625.36,1436.94 L626.63,1439.55 L627.93,1442.14 L629.24,1444.73 L630.58,1447.30 L631.94,1449.86 L633.32,1452.40 L634.72,1454.94 L636.15,1457.46 L637.59,1459.96 L639.06,1462.46 L640.55,1464.94 L642.06,1467.40 L643.59,1469.85 L645.14,1472.29 L646.71,1474.72 L648.30,1477.13 L649.91,1479.52 L651.54,1481.90 L653.19,1484.27 L654.86,1486.62 L656.55,1488.96 L658.26,1491.29 L659.99,1493.59 L661.74,1495.89 L663.51,1498.17 L665.29,1500.43 L667.10,1502.68 L668.92,1504.91 L670.76,1507.13 L672.62,1509.33 L674.50,1511.52 L676.39,1513.69 L678.31,1515.84 L680.24,1517.98 L682.19,1520.10 L684.15,1522.21 L686.14,1524.30 L688.14,1526.37 L690.16,1528.43 L692.19,1530.47 L694.24,1532.49 L696.31,1534.50 L698.39,1536.49 L700.49,1538.46 L702.61,1540.41 L704.74,1542.35 L706.89,1544.27 L709.05,1546.17 L711.23,1548.06 L713.43,1549.93 L715.64,1551.78 L717.86,1553.61 L720.10,1555.42 L722.36,1557.21 L724.63,1558.99 L726.91,1560.75 L729.21,1562.49 L731.52,1564.21 L733.85,1565.91 L736.19,1567.59 L738.54,1569.26 L740.91,1570.90 L743.29,1572.53 L745.69,1574.13 L748.10,1575.72 L750.52,1577.29 L752.95,1578.84 L755.40,1580.36 L757.86,1581.87 L760.33,1583.36 L762.81,1584.83 L765.31,1586.28 L767.82,1587.70 L770.34,1589.11 L772.87,1590.50 L775.41,1591.86 L777.97,1593.21 L780.54,1594.53 L783.11,1595.84 L785.70,1597.12 L788.30,1598.38 L790.91,1599.62 L793.53,1600.84 L796.17,1602.03 L798.81,1603.21 L801.46,1604.36 L804.12,1605.49 L806.79,1606.60 L809.48,1607.69 L812.17,1608.76 L814.87,1609.80 L817.58,1610.82 L820.30,1611.82 L823.03,1612.79 L825.76,1613.75 L828.51,1614.68 L831.26,1615.59 L834.02,1616.48 L836.79,1617.35 L839.56,1618.20 L842.35,1619.03 L845.13,1619.85 L847.93,1620.64 L850.73,1621.42 L853.53,1622.18 L856.34,1622.92 L859.16,1623.65 L861.98,1624.36 L864.80,1625.05 L867.63,1625.73 L870.46,1626.40 L873.29,1627.05 L876.13,1627.69 L878.97,1628.32 L881.81,1628.93 L884.65,1629.53 L887.50,1630.12 L890.34,1630.70 L893.19,1631.27 L896.03,1631.83 L898.88,1632.37 L901.73,1632.91 L904.57,1633.44 L907.42,1633.97 L910.26,1634.48 L913.10,1634.99 L915.94,1635.49 L918.78,1635.99 L921.62,1636.47 L924.45,1636.96 L927.28,1637.44 L930.10,1637.91 L932.93,1638.38 L935.74,1638.85 L938.56,1639.31 L941.37,1639.78 L944.17,1640.24 L946.97,1640.70 L949.76,1641.15 L953.03,1640.70 L955.83,1640.24 L958.63,1639.78 L961.44,1639.31 L964.26,1638.85 L967.07,1638.38 L969.90,1637.91 L972.72,1637.44 L975.55,1636.96 L978.38,1636.47 L981.22,1635.99 L984.06,1635.49 L986.90,1634.99 L989.74,1634.48 L992.58,1633.97 L995.43,1633.44 L998.27,1632.91 L1001.12,1632.37 L1003.97,1631.83 L1006.81,1631.27 L1009.66,1630.70 L1012.50,1630.12 L1015.35,1629.53 L1018.19,1628.93 L1021.03,1628.32 L1023.87,1627.69 L1026.71,1627.05 L1029.54,1626.40 L1032.37,1625.73 L1035.20,1625.05 L1038.02,1624.36 L1040.84,1623.65 L1043.66,1622.92 L1046.47,1622.18 L1049.27,1621.42 L1052.07,1620.64 L1054.87,1619.85 L1057.65,1619.03 L1060.44,1618.20 L1063.21,1617.35 L1065.98,1616.48 L1068.74,1615.59 L1071.49,1614.68 L1074.24,1613.75 L1076.97,1612.79 L1079.70,1611.82 L1082.42,1610.82 L1085.13,1609.80 L1087.83,1608.76 L1090.52,1607.69 L1093.21,1606.60 L1095.88,1605.49 L1098.54,1604.36 L1101.19,1603.21 L1103.83,1602.03 L1106.47,1600.84 L1109.09,1599.62 L1111.70,1598.38 L1114.30,1597.12 L1116.89,1595.84 L1119.46,1594.53 L1122.03,1593.21 L1124.59,1591.86 L1127.13,1590.50 L1129.66,1589.11 L1132.18,1587.70 L1134.69,1586.28 L1137.19,1584.83 L1139.67,1583.36 L1142.14,1581.87 L1144.60,1580.36 L1147.05,1578.84 L1149.48,1577.29 L1151.90,1575.72 L1154.31,1574.13 L1156.71,1572.53 L1159.09,1570.90 L1161.46,1569.26 L1163.81,1567.59 L1166.15,1565.91 L1168.48,1564.21 L1170.79,1562.49 L1173.09,1560.75 L1175.37,1558.99 L1177.64,1557.21 L1179.90,1555.42 L1182.14,1553.61 L1184.36,1551.78 L1186.57,1549.93 L1188.77,1548.06 L1190.95,1546.17 L1193.11,1544.27 L1195.26,1542.35 L1197.39,1540.41 L1199.51,1538.46 L1201.61,1536.49 L1203.69,1534.50 L1205.76,1532.49 L1207.81,1530.47 L1209.84,1528.43 L1211.86,1526.37 L1213.86,1524.30 L1215.85,1522.21 L1217.81,1520.10 L1219.76,1517.98 L1221.69,1515.84 L1223.61,1513.69 L1225.50,1511.52 L1227.38,1509.33 L1229.24,1507.13 L1231.08,1504.91 L1232.90,1502.68 L1234.71,1500.43 L1236.49,1498.17 L1238.26,1495.89 L1240.01,1493.59 L1241.74,1491.29 L1243.45,1488.96 L1245.14,1486.62 L1246.81,1484.27 L1248.46,1481.90 L1250.09,1479.52 L1251.70,1477.13 L1253.29,1474.72 L1254.86,1472.29 L1256.41,1469.85 L1257.94,1467.40 L1259.45,1464.94 L1260.94,1462.46 L1262.41,1459.96 L1263.85,1457.46 L1265.28,1454.94 L1266.68,1452.40 L1268.06,1449.86 L1269.42,1447.30 L1270.76,1444.73 L1272.07,1442.14 L1273.37,1439.55 L1274.64,1436.94 L1275.90,1434.32 L1277.13,1431.69 L1278.35,1429.05 L1279.54,1426.41 L1280.72,1423.75 L1281.88,1421.08 L1283.03,1418.41 L1284.16,1415.73 L1285.27,1413.04 L1286.37,1410.34 L1287.46,1407.64 L1288.53,1404.94 L1289.58,1402.23 L1290.63,1399.51 L1291.66,1396.80 L1292.68,1394.08 L1293.69,1391.35 L1294.68,1388.63 L1295.67,1385.90 L1296.65,1383.17 L1297.62,1380.44 L1298.58,1377.71 L1299.53,1374.98 L1300.47,1372.25 L1301.39,1369.51 L1302.29,1366.78 L1303.17,1364.04 L1304.02,1361.29 L1304.85,1358.55 L1305.65,1355.79 L1306.42,1353.03 L1307.15,1350.26 L1307.84,1347.49 L1308.48,1344.70 L1309.09,1341.91 L1309.65,1339.11 L1310.17,1336.30 L1310.66,1333.48 L1311.10,1330.66 L1311.51,1327.82 L1311.88,1324.98 L1312.22,1322.14 L1312.53,1319.28 L1312.80,1316.42 L1313.05,1313.56 L1313.28,1310.69 L1313.47,1307.81 L1313.65,1304.93 L1313.80,1302.05 L1313.93,1299.16 L1314.04,1296.27 L1314.14,1293.38 L1314.21,1290.48 L1314.28,1287.58 L1314.33,1284.68 L1314.37,1281.78 L1314.40,1278.87 L1314.42,1275.97 L1314.44,1273.06 L1314.45,1270.15 L1314.45,1267.25 L1314.44,1264.34 L1314.42,1261.43 L1314.39,1258.53 L1314.35,1255.62 L1314.30,1252.72 L1314.23,1249.81 L1314.14,1246.91 L1314.04,1244.01 L1313.92,1241.11 L1313.77,1238.22 L1313.61,1235.32 L1313.43,1232.43 L1313.23,1229.54 L1313.00,1226.65 L1312.74,1223.77 L1312.47,1220.89 L1312.17,1218.01 L1311.84,1215.14 L1311.49,1212.27 L1311.12,1209.40 L1310.73,1206.54 L1310.31,1203.68 L1309.87,1200.82 L1309.40,1197.97 L1308.91,1195.13 L1308.40,1192.28 L1307.86,1189.45 L1307.31,1186.61 L1306.73,1183.79 L1306.12,1180.96 L1305.50,1178.15 L1304.85,1175.33 L1304.18,1172.53 L1303.49,1169.73 L1302.77,1166.93 L1302.03,1164.14 L1301.27,1161.36 L1300.49,1158.58 L1299.69,1155.81 L1298.86,1153.04 L1298.02,1150.29 L1297.15,1147.53 L1296.26,1144.79 L1295.35,1142.05 L1294.41,1139.32 L1293.46,1136.60 L1292.49,1133.88 L1291.49,1131.18 L1290.47,1128.47 L1289.44,1125.78 L1288.38,1123.10 L1287.30,1120.42 L1286.20,1117.75 L1285.08,1115.09 L1283.94,1112.44 L1282.78,1109.80 L1281.60,1107.16 L1280.40,1104.54 L1279.18,1101.92 L1277.94,1099.32 L1276.68,1096.72 L1275.40,1094.13 L1274.10,1091.55 L1272.78,1088.98 L1271.44,1086.42 L1270.08,1083.87 L1268.71,1081.34 L1267.31,1078.81 L1265.90,1076.29 L1264.46,1073.78 L1263.01,1071.29 L1261.54,1068.80 L1260.05,1066.33 L1258.54,1063.86 L1257.01,1061.41 L1255.47,1058.97 L1253.90,1056.54 L1252.32,1054.12 L1250.72,1051.72 L1249.10,1049.32 L1247.47,1046.94 L1245.81,1044.57 L1244.14,1042.21 L1242.45,1039.87 L1240.75,1037.54 L1239.02,1035.22 L1237.28,1032.91 L1235.52,1030.62 L1233.75,1028.34 L1231.95,1026.07 L1230.14,1023.82 L1228.32,1021.58 L1226.47,1019.35 L1224.61,1017.14 L1222.74,1014.95 L1220.85,1012.76 L1218.94,1010.59 L1217.01,1008.44 L1215.07,1006.30 L1213.11,1004.17 L1211.14,1002.06 L1209.15,999.97 L1207.14,997.89 L1205.12,995.82 L1203.08,993.77 L1201.03,991.74 L1198.96,989.72 L1196.88,987.72 L1194.78,985.73 L1192.67,983.76 L1190.54,981.81 L1188.40,979.87 L1186.24,977.95 L1184.06,976.05 L1181.88,974.16 L1179.67,972.29 L1177.46,970.43 L1175.23,968.59 L1172.98,966.77 L1170.72,964.97 L1168.45,963.18 L1166.17,961.41 L1163.87,959.66 L1161.56,957.92 L1159.23,956.20 L1156.90,954.50 L1154.55,952.81 L1152.18,951.14 L1149.81,949.49 L1147.42,947.86 L1145.02,946.24 L1142.61,944.64 L1140.19,943.06 L1137.76,941.49 L1135.31,939.94 L1132.86,938.41 L1130.39,936.90 L1127.91,935.41 L1125.42,933.93 L1122.92,932.47 L1120.41,931.02 L1117.89,929.60 L1115.36,928.19 L1112.82,926.80 L1110.27,925.43 L1107.71,924.07 L1105.14,922.74 L1102.57,921.42 L1099.98,920.11 L1097.38,918.83 L1094.78,917.57 L1092.16,916.32 L1089.54,915.09 L1086.91,913.88 L1084.27,912.68 L1081.63,911.51 L1078.97,910.35 L1076.31,909.21 L1073.64,908.09 L1070.96,906.99 L1068.28,905.91 L1065.59,904.84 L1062.89,903.79 L1060.19,902.76 L1057.47,901.75 L1054.76,900.76 L1052.03,899.79 L1049.30,898.83 L1046.57,897.90 L1043.82,896.98 L1041.08,896.08 L1038.32,895.20 L1035.57,894.34 L1032.80,893.49 L1030.03,892.67 L1027.26,891.86 L1024.48,891.08 L1021.70,890.31 L1018.92,889.56 L1016.12,888.83 L1013.33,888.12 L1010.53,887.43 L1007.73,886.76 L1004.92,886.11 L1002.11,885.47 L999.30,884.86 L996.49,884.26 L993.67,883.69 L990.85,883.13 L988.02,882.59 L985.20,882.07 L982.37,881.58 L979.54,881.10 L976.71,880.64 L973.87,880.20 L971.04,879.78 L968.20,879.38 L965.36,879.00 L962.52,878.63 L960.25,878.36" stroke="#0a0ad4" stroke-linecap="butt"/>
<path d="M929.40,876.00 L927.60,864.60 L935.10,858.40 L934.40,852.80 L940.10,851.20 L939.90,845.60 L946.60,845.00 L950.00,854.00 L953.40,845.00 L960.10,845.60 L959.90,851.20 L965.60,852.80 L964.90,858.40 L972.40,864.60 L970.60,876.00" stroke="#0a0ad4" stroke-linejoin="miter" stroke-miterlimit="10"/>
</g>
<path d="M900.20,874.70 L929.00,874.30 L932.60,872.30 L947.60,879.70 L950.70,880.25 L948.00,880.70 L940.00,881.20 L930.00,881.90 L915.40,879.20 Z" fill="#0a0ad4"/>
<path d="M999.80,874.70 L971.00,874.30 L967.40,872.30 L952.40,879.70 L949.30,880.25 L952.00,880.70 L960.00,881.20 L970.00,881.90 L984.60,879.20 Z" fill="#0a0ad4"/>
<rect x="12.15" y="12.2" width="1876.1" height="1735.2" fill="none" stroke="#000" stroke-width="4.5"/>
<text transform="translate(36.76,1820.07) scale(0.9380,1)" font-family="Liberation Sans" font-size="53.80" fill="#000" stroke="#000" stroke-width="0.53">cd</text>
<path d="M106.2,1781.1 L109.8,1781.1 L94.9,1827.9 L90.8,1827.9 Z" fill="#000"/>
<text transform="translate(111.74,1820.10) scale(0.9830,1)" font-family="Liberation Sans" font-size="53.80" fill="#000" stroke="#000" stroke-width="0.51">klm</text>
<line x1="28.4" y1="1850.5" x2="150.5" y2="1850.5" stroke="#dc1212" stroke-width="4"/>
<text transform="translate(161.84,1871.16) scale(0.8653,1)" font-family="Liberation Sans" font-size="44.63" fill="#000" stroke="#000" stroke-width="0.58">C0</text>
<rect x="226.2" y="1856.0" width="12.2" height="3.7" fill="#000"/>
<text transform="translate(252.34,1871.16) scale(0.9095,1)" font-family="Liberation Sans" font-size="44.63" fill="#000" stroke="#000" stroke-width="0.55">C180</text>
<line x1="407.4" y1="1850.5" x2="529.5" y2="1850.5" stroke="#0a0ad4" stroke-width="4"/>
<text transform="translate(540.07,1871.26) scale(0.8910,1)" font-family="Liberation Sans" font-size="44.77" fill="#000" stroke="#000" stroke-width="0.56">C90</text>
<rect x="628.7" y="1856.1" width="11.5" height="3.7" fill="#000"/>
<text transform="translate(654.44,1871.26) scale(0.9047,1)" font-family="Liberation Sans" font-size="44.77" fill="#000" stroke="#000" stroke-width="0.55">C270</text>
<text transform="translate(1660.91,1808.99) scale(1.1274,1)" font-family="Liberation Serif" font-size="50.29" fill="#000" stroke="#000" stroke-width="0.44">η</text>
<text transform="translate(1704.31,1811.02) scale(1.2193,1)" font-family="Liberation Serif" font-size="46.00" fill="#000" stroke="#000" stroke-width="0.41">=</text>
<text transform="translate(1753.35,1819.77) scale(0.9978,1)" font-family="Liberation Sans" font-size="53.86" fill="#000" stroke="#000" stroke-width="0.50">55%</text>
</svg></body></html>
